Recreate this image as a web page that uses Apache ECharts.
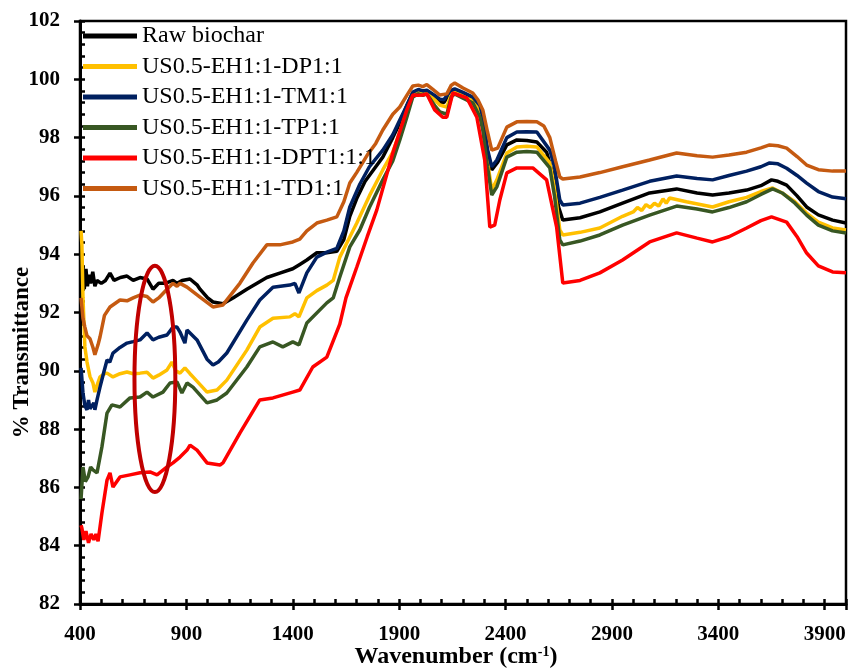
<!DOCTYPE html>
<html><head><meta charset="utf-8">
<script src="https://cdn.jsdelivr.net/npm/echarts@6/dist/echarts.min.js"></script>
<style>html,body{margin:0;padding:0;background:#fff}#c{width:852px;height:672px}</style>
</head><body><div id="c"></div>
<script>
// ---- data (wavenumber cm-1, % transmittance) ----
const seriesNames = ['Raw biochar','US0.5-EH1:1-DP1:1','US0.5-EH1:1-TM1:1','US0.5-EH1:1-TP1:1','US0.5-EH1:1-DPT1:1:1','US0.5-EH1:1-TD1:1'];
const seriesColors = ['#000000','#FFC000','#002060','#385723','#FF0000','#C55A11'];
const xTickLabels = [400,900,1400,1900,2400,2900,3400,3900];
const yTickLabels = [82,84,86,88,90,92,94,96,98,100,102];

const rawBiochar = [[405,92.9],[414,93.6],[420,92.8],[428,93.5],[435,92.9],[442,93.3],[450,93.0],[460,93.4],[470,92.9],[480,93.1],[500,93.0],[520,93.1],[541,93.35],[560,93.1],[590,93.2],[621,93.25],[650,93.1],[682,93.2],[715,93.15],[743,92.8],[770,93.0],[800,93.0],[837,93.1],[856,93.0],[880,93.1],[917,93.15],[950,92.95],[964,92.8],[1000,92.5],[1025,92.36],[1072,92.3],[1119,92.5],[1184,92.8],[1278,93.2],[1339,93.35],[1400,93.5],[1433,93.65],[1466,93.8],[1513,94.05],[1560,94.05],[1607,94.1],[1640,94.5],[1668,95.3],[1700,95.9],[1740,96.5],[1790,97.0],[1823,97.33],[1870,98.0],[1903,98.5],[1936,99.1],[1964,99.53],[1990,99.6],[2011,99.55],[2030,99.56],[2067,99.35],[2091,99.22],[2110,99.2],[2140,99.55],[2161,99.6],[2200,99.5],[2246,99.36],[2280,99.0],[2293,98.6],[2315,97.5],[2335,96.89],[2363,97.16],[2406,97.75],[2453,97.92],[2500,97.9],[2547,97.85],[2593,97.5],[2620,96.8],[2650,95.6],[2669,95.17],[2750,95.25],[2843,95.45],[2950,95.75],[3077,96.1],[3204,96.24],[3300,96.1],[3373,96.03],[3450,96.1],[3533,96.2],[3600,96.35],[3650,96.55],[3680,96.5],[3721,96.37],[3770,96.0],[3815,95.62],[3870,95.35],[3937,95.17],[4000,95.07]];

const dp11 = [[405,94.8],[409,94.3],[414,92.5],[423,90.82],[433,90.3],[447,89.8],[461,89.58],[470,89.27],[480,89.5],[494,89.79],[515,89.9],[527,89.92],[555,89.79],[588,89.9],[621,89.96],[650,89.9],[682,89.92],[715,89.95],[743,89.75],[770,89.85],[809,90.03],[832,90.3],[850,90.0],[870,89.92],[893,90.1],[917,89.9],[931,89.79],[997,89.27],[1044,89.34],[1090,89.68],[1184,90.71],[1245,91.5],[1307,91.8],[1386,91.85],[1410,91.96],[1429,91.85],[1466,92.5],[1513,92.75],[1560,92.94],[1590,93.1],[1621,93.9],[1668,94.59],[1701,95.07],[1760,96.0],[1823,96.89],[1870,97.5],[1903,98.19],[1936,98.9],[1964,99.53],[1990,99.6],[2011,99.55],[2030,99.56],[2067,99.3],[2091,99.12],[2124,99.05],[2145,99.5],[2161,99.56],[2200,99.45],[2246,99.29],[2280,98.9],[2293,98.5],[2315,97.2],[2335,96.2],[2359,96.55],[2406,97.47],[2453,97.68],[2500,97.7],[2547,97.68],[2608,97.13],[2630,96.3],[2655,94.83],[2669,94.66],[2750,94.75],[2843,94.9],[2950,95.3],[3000,95.45],[3020,95.6],[3040,95.5],[3060,95.7],[3080,95.6],[3100,95.75],[3120,95.65],[3140,95.9],[3155,95.75],[3171,95.93],[3250,95.8],[3373,95.62],[3450,95.8],[3533,95.95],[3600,96.15],[3655,96.27],[3700,96.1],[3760,95.8],[3815,95.41],[3870,95.1],[3937,94.9],[4000,94.83]];

const tm11 = [[405,90.1],[414,89.24],[423,88.8],[433,88.66],[440,89.0],[447,88.7],[456,88.76],[465,88.9],[470,88.66],[480,89.0],[494,89.44],[510,89.9],[527,90.37],[540,90.3],[555,90.61],[588,90.8],[621,90.95],[650,91.0],[682,91.06],[715,91.3],[743,91.06],[770,91.15],[809,91.23],[837,91.5],[856,91.5],[870,91.33],[893,90.95],[903,91.4],[917,91.3],[950,91.06],[997,90.4],[1025,90.2],[1050,90.3],[1090,90.61],[1184,91.74],[1245,92.43],[1307,92.87],[1386,92.94],[1410,93.0],[1429,92.67],[1466,93.36],[1513,93.9],[1560,94.07],[1607,94.2],[1640,94.8],[1668,95.62],[1715,96.4],[1760,97.0],[1823,97.57],[1870,98.1],[1903,98.6],[1936,99.1],[1964,99.56],[1990,99.65],[2011,99.6],[2030,99.63],[2067,99.45],[2091,99.32],[2110,99.3],[2140,99.6],[2161,99.67],[2200,99.55],[2246,99.39],[2280,99.1],[2293,98.7],[2315,97.6],[2335,97.0],[2359,97.23],[2406,98.0],[2453,98.19],[2500,98.2],[2547,98.19],[2608,97.57],[2630,97.0],[2655,95.86],[2669,95.69],[2750,95.75],[2843,95.95],[2950,96.2],[3077,96.5],[3204,96.68],[3300,96.6],[3373,96.55],[3450,96.7],[3533,96.85],[3600,97.0],[3641,97.13],[3680,97.1],[3721,96.95],[3770,96.7],[3815,96.44],[3870,96.15],[3937,95.96],[4000,95.9]];

const tp11 = [[405,85.6],[414,86.7],[425,86.2],[438,86.36],[450,86.7],[461,86.6],[480,86.5],[503,87.39],[527,88.55],[550,88.83],[588,88.76],[635,89.07],[682,89.1],[715,89.27],[743,89.1],[790,89.27],[823,89.58],[856,89.62],[879,89.24],[903,89.58],[931,89.44],[997,88.9],[1044,89.0],[1090,89.24],[1184,90.13],[1245,90.82],[1307,90.99],[1353,90.82],[1400,90.99],[1429,90.89],[1466,91.64],[1560,92.33],[1590,92.5],[1621,93.22],[1668,94.25],[1715,94.83],[1760,95.6],[1823,96.55],[1870,97.2],[1903,97.92],[1936,98.7],[1964,99.39],[1990,99.5],[2011,99.45],[2030,99.5],[2067,99.1],[2091,98.88],[2124,98.8],[2145,99.4],[2161,99.5],[2200,99.35],[2246,99.19],[2280,98.7],[2293,98.26],[2315,97.0],[2335,96.03],[2359,96.31],[2406,97.33],[2453,97.5],[2500,97.52],[2547,97.5],[2608,96.96],[2630,96.0],[2655,94.49],[2669,94.32],[2750,94.45],[2843,94.66],[2950,95.0],[3077,95.34],[3204,95.65],[3300,95.55],[3373,95.45],[3450,95.6],[3533,95.8],[3600,96.05],[3655,96.24],[3700,96.1],[3760,95.75],[3815,95.34],[3870,95.0],[3937,94.8],[4000,94.73]];

const dpt111 = [[405,84.7],[409,84.6],[418,84.2],[428,84.5],[440,84.1],[452,84.4],[465,84.2],[475,84.4],[485,84.15],[503,85.12],[527,86.25],[541,86.5],[555,86.01],[588,86.36],[635,86.43],[682,86.5],[729,86.53],[762,86.43],[809,86.7],[837,86.84],[870,87.04],[903,87.28],[917,87.45],[950,87.28],[997,86.84],[1058,86.77],[1072,86.84],[1152,87.87],[1245,89.0],[1307,89.07],[1400,89.27],[1433,89.34],[1494,90.13],[1560,90.47],[1621,91.6],[1650,92.5],[1701,93.56],[1750,94.6],[1795,95.52],[1870,97.47],[1936,98.95],[1964,99.46],[1990,99.45],[2011,99.46],[2030,99.5],[2067,98.95],[2105,98.7],[2124,98.7],[2152,99.53],[2218,99.36],[2265,98.7],[2302,97.23],[2326,94.93],[2349,95.0],[2373,95.86],[2406,96.79],[2453,96.96],[2528,96.96],[2593,96.55],[2640,94.93],[2669,93.01],[2750,93.1],[2843,93.36],[2950,93.8],[3077,94.42],[3204,94.73],[3300,94.55],[3373,94.42],[3450,94.6],[3533,94.9],[3600,95.15],[3650,95.28],[3721,95.1],[3770,94.6],[3815,94.04],[3870,93.6],[3937,93.39],[4000,93.36]];

const td11 = [[405,92.5],[414,91.8],[423,91.5],[433,91.2],[447,91.1],[461,90.8],[470,90.55],[485,90.9],[494,91.16],[515,91.9],[541,92.19],[588,92.43],[621,92.4],[650,92.5],[682,92.6],[715,92.55],[743,92.36],[770,92.5],[809,92.8],[837,93.0],[856,92.9],[870,93.0],[903,92.87],[964,92.53],[1025,92.19],[1072,92.26],[1152,93.01],[1213,93.7],[1278,94.32],[1339,94.32],[1400,94.42],[1433,94.52],[1466,94.8],[1513,95.07],[1560,95.17],[1607,95.28],[1640,95.8],[1668,96.44],[1700,96.8],[1750,97.4],[1790,97.8],[1823,98.26],[1870,98.8],[1903,99.05],[1936,99.45],[1964,99.77],[1990,99.8],[2011,99.75],[2030,99.82],[2067,99.6],[2091,99.46],[2124,99.5],[2145,99.8],[2161,99.87],[2200,99.7],[2246,99.53],[2270,99.3],[2293,98.95],[2315,98.2],[2335,97.57],[2363,97.64],[2406,98.36],[2453,98.54],[2500,98.55],[2547,98.54],[2580,98.4],[2608,98.0],[2635,97.2],[2655,96.65],[2669,96.58],[2750,96.65],[2843,96.8],[2950,97.0],[3077,97.23],[3204,97.47],[3300,97.38],[3373,97.33],[3450,97.4],[3533,97.5],[3600,97.65],[3641,97.75],[3680,97.72],[3721,97.64],[3770,97.35],[3815,97.06],[3870,96.9],[3937,96.85],[4000,96.85]];

// annotation ellipse (data units): centre and radii
const ellipseCenter = [752, 89.72];
const ellipseRadius = [96, 3.88];

const allData = [rawBiochar, dp11, tm11, tp11, dpt111, td11];
const FONT = '"Liberation Serif","Times New Roman",serif';

const chart = echarts.init(document.getElementById('c'), null, {renderer: 'canvas'});
const xMin = 400, xMax = 4000, yMin = 82, yMax = 102;

const option = {
  animation: false,
  backgroundColor: '#fff',
  grid: {left: 80, right: 6, top: 21, bottom: 68, outerBoundsMode: 'none', containLabel: false,
         show: true, borderColor: '#000', borderWidth: 2.5, backgroundColor: 'transparent'},
  legend: {
    show: true, orient: 'vertical', left: 78, top: 19, itemWidth: 54, itemHeight: 5, itemGap: 6.5,
    data: seriesNames.map((n, i) => ({name: n, icon: 'rect', itemStyle: {color: seriesColors[i]}})),
    textStyle: {fontFamily: FONT, fontSize: 24, color: '#000', lineHeight: 24},
    z: 50
  },
  xAxis: [
    {type: 'value', min: xMin, max: xMax, interval: 500, position: 'bottom',
     axisLine: {lineStyle: {color: '#000', width: 3}},
     axisTick: {show: true, inside: false, length: 6, lineStyle: {color: '#000', width: 2.5}},
     axisLabel: {margin: 20, color: '#000', fontFamily: FONT, fontWeight: 'bold', fontSize: 21,
       formatter: v => xTickLabels.indexOf(v) >= 0 ? String(v) : ''},
     splitLine: {show: false},
     name: '{t|Wavenumber (cm}{s|-1}{t|)}', nameLocation: 'middle', nameGap: 41, nameMoveOverlap: false,
     nameTextStyle: {padding: [0, 14, 0, 0], rich: {
       t: {fontFamily: FONT, fontWeight: 'bold', fontSize: 24, color: '#000'},
       s: {fontFamily: FONT, fontWeight: 'bold', fontSize: 14, color: '#000', verticalAlign: 'top', padding: [0,0,8,0]}
     }}
    },
    {type: 'value', min: xMin, max: xMax, interval: 100, position: 'bottom', gridIndex: 0,
     axisLine: {show: false}, axisLabel: {show: false}, splitLine: {show: false},
     axisTick: {show: true, inside: true, length: 5, lineStyle: {color: '#000', width: 2.5}}}
  ],
  yAxis: [
    {type: 'value', min: yMin, max: yMax, interval: 2, position: 'left',
     axisLine: {show: true, lineStyle: {color: '#000', width: 3}},
     axisTick: {show: true, inside: false, length: 6, lineStyle: {color: '#000', width: 2.5}},
     axisLabel: {margin: 20, color: '#000', fontFamily: FONT, fontWeight: 'bold', fontSize: 21,
       formatter: v => yTickLabels.indexOf(v) >= 0 ? String(v) : ''},
     splitLine: {show: false},
     name: '% Transmittance', nameLocation: 'middle', nameGap: 46, nameRotate: 90, nameMoveOverlap: false,
     nameTextStyle: {fontFamily: FONT, fontWeight: 'bold', fontSize: 23, color: '#000', padding: [0, 80, 0, 0]}
    },
    {type: 'value', min: yMin, max: yMax, interval: 0.4, position: 'left', gridIndex: 0,
     axisLine: {show: false}, axisLabel: {show: false}, splitLine: {show: false},
     axisTick: {show: true, inside: true, length: 5, lineStyle: {color: '#000', width: 2.5}}}
  ],
  series: seriesNames.map((n, i) => ({
    name: n, type: 'line', data: allData[i], showSymbol: false, symbol: 'none',
    xAxisIndex: 0, yAxisIndex: 0,
    lineStyle: {color: seriesColors[i], width: 3.5}, itemStyle: {color: seriesColors[i]},
    z: 3 + i
  }))
};
chart.setOption(option);

// draw annotation ellipse through the grid's coordinate conversion
const c = chart.convertToPixel({xAxisIndex: 0, yAxisIndex: 0}, ellipseCenter);
const e1 = chart.convertToPixel({xAxisIndex: 0, yAxisIndex: 0}, [ellipseCenter[0] + ellipseRadius[0], ellipseCenter[1] + ellipseRadius[1]]);
chart.setOption({graphic: [{type: 'ellipse', shape: {cx: c[0], cy: c[1], rx: Math.abs(e1[0]-c[0]), ry: Math.abs(e1[1]-c[1])},
  style: {fill: 'none', stroke: '#C00000', lineWidth: 4}, z: 100}]});
</script></body></html>
